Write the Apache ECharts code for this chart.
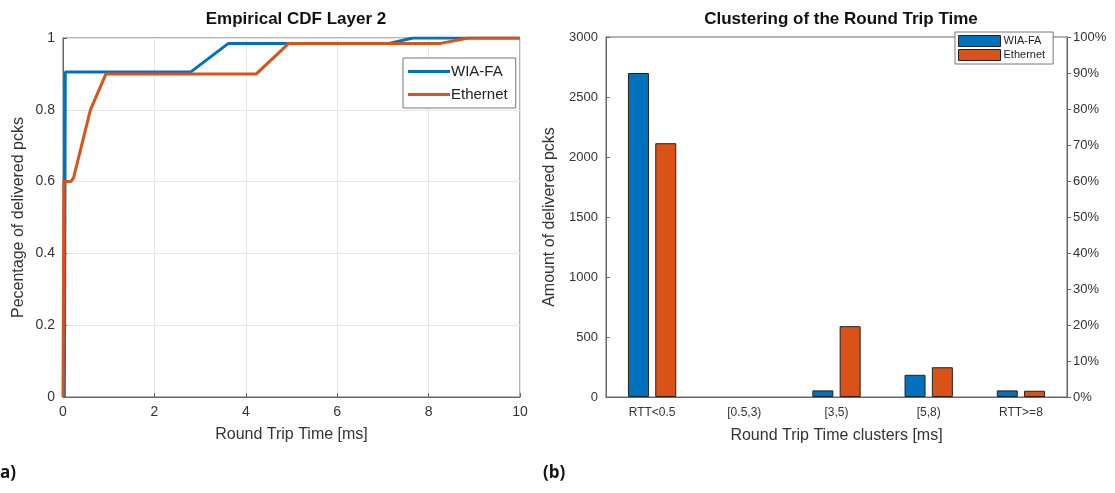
<!DOCTYPE html>
<html>
<head>
<meta charset="utf-8">
<script src="https://cdn.jsdelivr.net/npm/echarts@6/dist/echarts.min.js"></script>
<style>
  html, body { margin: 0; padding: 0; background: #fff; }
  #main { width: 1115px; height: 493px; }
</style>
</head>
<body>
<div id="main"></div>
<script>
var chart = echarts.init(document.getElementById('main'));

// CDF curves (x in ms, y fraction)
var wiaCdfX = [0.03, 0.05, 2.79, 3.62, 7.13, 7.66, 10];
var wiaCdfY = [0, 0.905, 0.905, 0.985, 0.985, 1, 1];
var ethCdfX = [0, 0.02, 0.17, 0.23, 0.6, 0.94, 4.23, 4.94, 8.26, 8.87, 10];
var ethCdfY = [0, 0.6, 0.6, 0.61, 0.8, 0.9, 0.9, 0.985, 0.985, 1, 1];

// clustering bars
var clusters = ['RTT<0.5', '[0.5,3)', '[3,5)', '[5,8)', 'RTT>=8'];
var wiaCounts = [2700, 0, 55, 185, 55];
var ethCounts = [2115, 0, 590, 248, 52];

var BLUE = '#0072BD';
var ORANGE = '#D95319';
var TXT = '#333';
var FONT = 'Liberation Sans';

function pairs(xs, ys) {
  return xs.map(function (x, i) { return [x, ys[i]]; });
}
// zero-height bars are not drawn (as in the original)
function bars(vals) {
  return vals.map(function (v) { return v === 0 ? null : v; });
}

var option = {
  animation: false,
  textStyle: { fontFamily: FONT },
  title: [
    { text: 'Empirical CDF Layer 2', left: 291, top: 6, textAlign: 'center',
      textStyle: { fontSize: 17, fontWeight: 'bold', color: '#111', fontFamily: FONT } },
    { text: 'Clustering of the Round Trip Time', left: 836, top: 6, textAlign: 'center',
      textStyle: { fontSize: 17, fontWeight: 'bold', color: '#111', fontFamily: FONT } }
  ],
  legend: [
    { data: ['WIA-FA', 'Ethernet'], orient: 'vertical', left: 403, top: 58,
      icon: 'rect', itemWidth: 42, itemHeight: 3, itemGap: 8, padding: [6, 8, 6, 5],
      borderColor: '#777', borderWidth: 1, backgroundColor: '#fff',
      textStyle: { fontSize: 15, color: '#222', padding: [0, 0, 0, -4] } },
    { data: [{ name: 'WIA-FA ' }, { name: 'Ethernet ' }], orient: 'vertical', left: 955, top: 32,
      icon: 'rect', itemWidth: 42, itemHeight: 11, itemGap: 2, padding: [3, 5, 3, 3],
      borderColor: '#777', borderWidth: 1, backgroundColor: '#fff',
      itemStyle: { borderWidth: 1, borderColor: '#222' },
      textStyle: { fontSize: 11, color: '#222', padding: [0, 0, 0, -2] } }
  ],
  grid: [
    { left: 63, top: 38, width: 457, height: 359, show: true, borderColor: '#666', borderWidth: 1 },
    { left: 606, top: 37, width: 461, height: 360, show: true, borderColor: '#666', borderWidth: 1 }
  ],
  xAxis: [
    { type: 'value', gridIndex: 0, min: 0, max: 10, interval: 2,
      name: 'Round Trip Time [ms]', nameLocation: 'middle', nameGap: 30,
      nameTextStyle: { fontSize: 16, color: TXT },
      axisLine: { lineStyle: { color: '#666' } },
      axisTick: { inside: true, length: 4, lineStyle: { color: '#666' } },
      axisLabel: { fontSize: 14, color: TXT, margin: 8 },
      splitLine: { show: true, lineStyle: { color: '#e6e6e6' } } },
    { type: 'category', gridIndex: 1, data: clusters,
      name: 'Round Trip Time clusters [ms]', nameLocation: 'middle', nameGap: 31,
      nameTextStyle: { fontSize: 16, color: TXT },
      axisLine: { lineStyle: { color: '#666' } },
      axisTick: { inside: true, alignWithLabel: true, length: 4, lineStyle: { color: '#666' } },
      axisLabel: { fontSize: 12, color: TXT, margin: 10 },
      splitLine: { show: false } },
    { type: 'category', gridIndex: 1, data: clusters, position: 'top',
      axisLine: { show: false },
      axisTick: { inside: true, alignWithLabel: true, length: 4, lineStyle: { color: '#666' } },
      axisLabel: { show: false } }
  ],
  yAxis: [
    { type: 'value', gridIndex: 0, min: 0, max: 1, interval: 0.2,
      name: 'Pecentage of delivered pcks', nameLocation: 'middle', nameGap: 36,
      nameTextStyle: { fontSize: 16, color: TXT },
      axisLine: { show: true, lineStyle: { color: '#666' } },
      axisTick: { show: true, inside: true, length: 4, lineStyle: { color: '#666' } },
      axisLabel: { fontSize: 14, color: TXT, margin: 8 },
      splitLine: { show: true, lineStyle: { color: '#e6e6e6' } } },
    { type: 'value', gridIndex: 1, min: 0, max: 3000, interval: 500,
      name: 'Amount of delivered pcks', nameLocation: 'middle', nameGap: 48,
      nameTextStyle: { fontSize: 16, color: TXT },
      axisLine: { show: true, lineStyle: { color: '#666' } },
      axisTick: { show: true, inside: true, length: 4, lineStyle: { color: '#666' } },
      axisLabel: { fontSize: 13, color: TXT, margin: 8, formatter: function (v) { return String(v); } },
      splitLine: { show: false } },
    { type: 'value', gridIndex: 1, min: 0, max: 100, interval: 10, position: 'right',
      axisLine: { show: true, lineStyle: { color: '#666' } },
      axisTick: { show: true, length: 4, lineStyle: { color: '#666' } },
      axisLabel: { fontSize: 13, color: TXT, margin: 6, formatter: '{value}%' },
      splitLine: { show: false } }
  ],
  series: [
    { name: 'WIA-FA', type: 'line', xAxisIndex: 0, yAxisIndex: 0, symbol: 'none',
      data: pairs(wiaCdfX, wiaCdfY), lineStyle: { color: BLUE, width: 3 }, itemStyle: { color: BLUE } },
    { name: 'Ethernet', type: 'line', xAxisIndex: 0, yAxisIndex: 0, symbol: 'none',
      data: pairs(ethCdfX, ethCdfY), lineStyle: { color: ORANGE, width: 3 }, itemStyle: { color: ORANGE } },
    { name: 'WIA-FA ', type: 'bar', xAxisIndex: 1, yAxisIndex: 1, data: bars(wiaCounts),
      barWidth: 21, barGap: '30%',
      itemStyle: { color: BLUE, borderColor: '#222', borderWidth: 1 } },
    { name: 'Ethernet ', type: 'bar', xAxisIndex: 1, yAxisIndex: 1, data: bars(ethCounts),
      barWidth: 21,
      itemStyle: { color: ORANGE, borderColor: '#222', borderWidth: 1 } }
  ],
  graphic: [
    { type: 'text', left: 0, top: 465,
      style: { text: 'a)', fontSize: 17, fontWeight: 'bold', fill: '#111', fontFamily: 'Open Sans' } },
    { type: 'text', left: 543, top: 465,
      style: { text: '(b)', fontSize: 17, fontWeight: 'bold', fill: '#111', fontFamily: 'Open Sans' } }
  ]
};

chart.setOption(option);
window.onresize = chart.resize;
</script>
</body>
</html>
